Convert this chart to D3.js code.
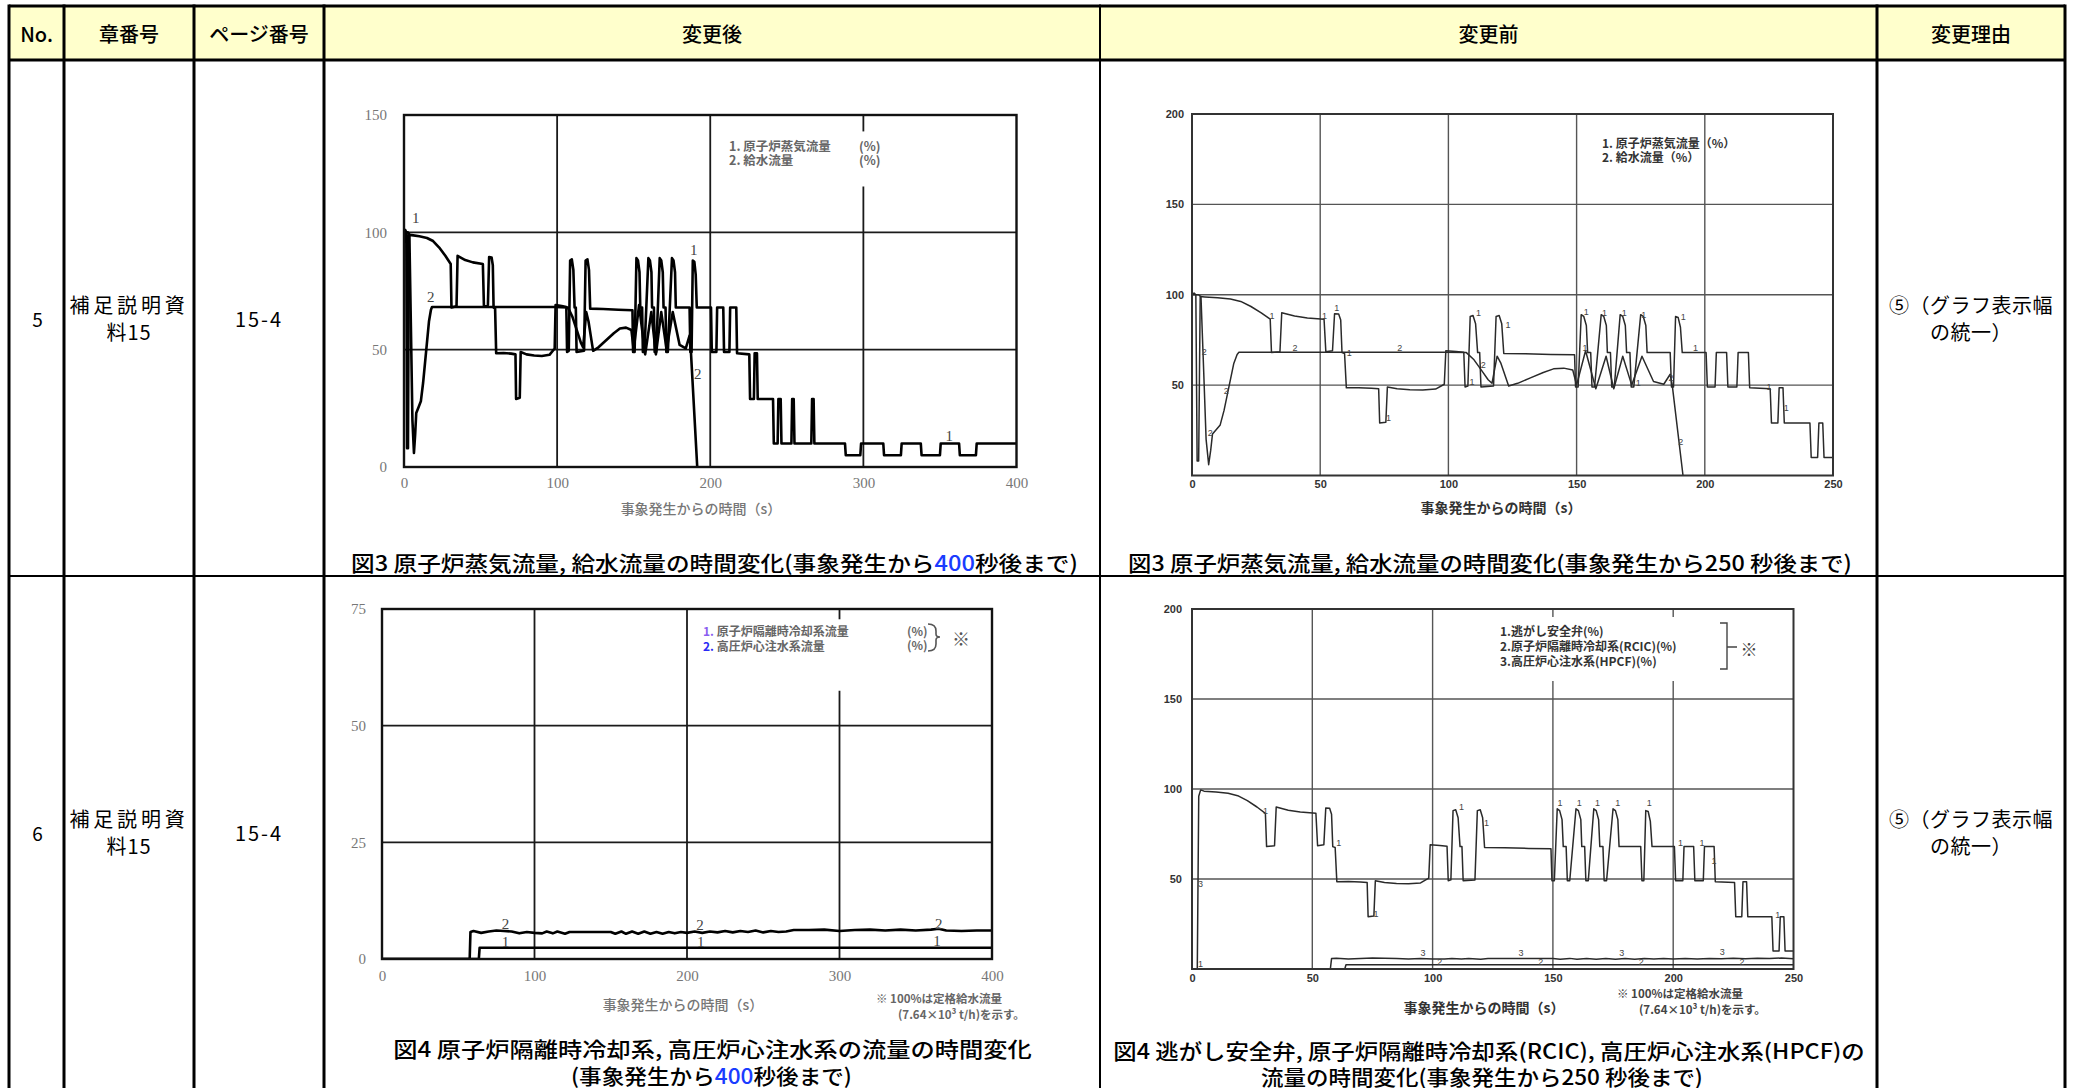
<!DOCTYPE html>
<html>
<head>
<meta charset="utf-8">
<script src="https://cdn.jsdelivr.net/npm/d3@7"></script>
<style>
  html, body { margin: 0; padding: 0; background: #fff; }
  svg { display: block; }
</style>
</head>
<body>
<svg id="page" width="2081" height="1088"></svg>
<script>
// ---------------------------------------------------------------------------
// Data
// ---------------------------------------------------------------------------

// Table text
const headerLabels = ['No.', '章番号', 'ページ番号', '変更後', '変更前', '変更理由'];
const rowNumbers = ['5', '6'];
const chapterLines = ['補足説明資', '料15'];
const pageLabel = '15-4';
const reasonLines = ['⑤（グラフ表示幅', 'の統一）'];

// Reactor steam flow [time s, %]
const steamFlow = [
  [0,100],[0.8,101],[1.5,100],[2.0,8],[2.6,8],[3.2,99],[5,98.8],[10,98.3],[15,97.6],
  [19,96.3],[23,93.5],[27,90],[30.5,86.5],[31,68],[34.3,68.5],[35,90],[40,88.2],[45,87.2],
  [51.5,86.5],[52.2,68.5],[54.8,69],[55.6,89.5],[57.2,89.3],[58,86],[58.5,68],[59.5,67.5],
  [60.2,48.5],[65,48.6],[70,48.3],[72.8,48],[73.2,29],[75.6,29.5],[76.2,49],[80,48],
  [85,47.5],[90,47.3],[95,47.8],[98.4,50.5],[99,69],[103,68.6],[106,68.2],[106.5,49],
  [107.6,49.5],[108.5,88],[109.6,88.5],[110.6,84],[111.4,68],[112.2,68],[112.7,49],
  [117.6,49.5],[118.6,88],[119.8,88.5],[120.8,84],[121.6,67.5],[130,67.3],[140,67],
  [149.2,66.8],[149.6,49],[150.6,49],[151.8,89],[152.8,88],[153.8,83],[154.3,68],
  [155.5,68],[156,49],[157,49],[159.6,89],[160.6,88],[161.6,83],[162,68],[163.2,68],
  [163.7,49],[164.7,49],[167,89],[168,88],[169,83],[169.5,68],[170.8,68],[171.3,49],
  [172.3,49],[175,89],[176,88],[177,83],[177.5,68],[186.5,68],[187,49],[187.8,49],
  [188.6,88],[189.6,87.5],[190.5,82],[191.2,68],[200.5,68],[201,49],[204,49],[204.5,68],
  [208.5,68],[209,49],[212.5,49],[213,68],[217,68],[217.5,48.5],[225.5,48],[226,29],
  [228.5,29],[229,48.5],[230.5,48.5],[231,29],[241,29],[241.5,10],[244,10],[244.5,29],
  [246,29],[246.5,10],[253,10],[253.5,29],[254.5,29],[255,10],[266,10],[266.5,29],
  [267.5,29],[268,10],[288,10],[288.5,5],[298,5],[298.5,10],[313,10],[313.5,5],
  [324.5,5],[325,10],[337.5,10],[338,5],[350,5],[350.5,10],[362.5,10],[363,5],
  [373.5,5],[374,10],[400,10]
];

// Feedwater flow [time s, %]
const feedwaterFlow = [
  [0,100],[2.5,100],[3.5,99],[4.5,60],[5.5,20],[6.5,6],[7.3,14],[8,23],[9.5,25.5],
  [11,28],[12.5,36],[14.4,49],[16.3,62],[17.6,67],[18.3,68.2],[40,68.2],[70,68.2],
  [98,68.2],[107,68],[110,64],[113,58],[115.5,53],[117,51],[119,66],[120.5,62],
  [123.5,49.5],[127,51],[132,54],[137,57],[141,59],[145,59.4],[148.5,58.4],[150,50],
  [153.5,69],[157.5,48],[161.5,66],[164.5,48],[168,66],[171.5,50],[175.5,66],[180,52],
  [184,50.5],[186.5,56],[187.3,50],[191.5,0]
];

// Safety relief valve flow: valve opening, then it carries the steam flow
const srvOpening = [[0,0],[2.2,0],[2.8,96],[3.6,99.5]];
const srvFlow = srvOpening.concat(steamFlow.filter(d => d[0] >= 5));

// RCIC flow [time s, %]
const rcicFlow = [[0,0],[63.5,0],[64,2.4],[150,2.4],[250,2.4],[400,2.4]];

// HPCF flow [time s, %]
const hpcfFlow = [
  [0,0],[57.5,0],[58,5.8],[60,6],[65,5.6],[70,5.9],[75,6.1],[80,6.0],[85,5.9],[90,5.5],
  [95,5.8],[100,5.6],[105,5.5],[108,5.9],[112,5.5],[115,5.9],[120,5.4],[123,5.8],
  [130,5.8],[140,5.8],[150,5.8],[153,5.4],[157,5.9],[160,5.4],[164,5.9],[168,5.4],
  [172,5.9],[176,5.4],[180,5.8],[184,5.4],[188,5.8],[192,5.5],[196,5.8],[200,5.6],
  [205,5.9],[210,5.6],[215,5.9],[220,5.7],[225,6.0],[230,5.7],[235,6.0],[240,5.8],
  [245,6.1],[250,5.7],[255,6.0],[260,5.8],[265,5.9],[270,6.2],[280,6.2],[290,6.3],
  [300,6.0],[310,6.2],[320,6.3],[330,6.1],[340,6.3],[350,6.1],[360,6.3],[365,6.5],
  [370,6.1],[380,6.0],[390,6.1],[400,6.1]
];

// Curve number tags [tag, time, %]
const tagsFig3New = [['1',7.6,106],['2',17.5,72.5],['1',189.3,92.4],['2',191.9,39.8],['1',356,13]];
const tagsFig3Old = [
  ['2',4.8,68.6],['2',7.1,23.4],['2',13.4,46.5],['1',31.2,88],['2',40.2,70.4],['1',51.7,88.3],
  ['1',56.5,92.5],['1',61.3,67.6],['1',76.6,31.7],['2',81,70.4],['1',109.2,52],['1',111.7,89.8],
  ['2',113.6,61.2],['1',123.2,83.3],['1',153.3,70.4],['1',153.8,90.7],['1',160.9,90.1],
  ['1',168.6,90.1],['1',174,51],['1',176.2,88.8],['2',186.8,53.8],['2',190.6,18.8],
  ['1',191.6,87.9],['1',196.4,70.4],['1',225,49],['1',231.8,37.2]
];
const tagsFig4New = [['2',81,7.5],['2',208.5,7.3],['2',365,7.5],['1',81,3.6],['1',209,3.6],['1',364,3.9]];
const tagsFig4Old = [
  ['3',3.5,47],['1',3.5,3],['1',30.6,88],['1',61,70],['1',76.5,30.5],['1',112,90],['1',122.4,81],
  ['1',153,92],['1',161,92],['1',168.5,92],['1',177,92],['1',190,92],['1',203,70],['1',212,70],
  ['1',217,60],['1',243.5,30],['3',96,8.7],['3',136.7,8.7],['3',178.6,8.7],['3',220.4,9.2],
  ['2',103,3.7],['2',145,3.7],['2',186.7,3.7],['2',228.6,3.7]
];

// Axis ticks
const ticksX400 = [0,100,200,300,400];
const ticksX250 = [0,50,100,150,200,250];
const ticksY150 = [0,50,100,150];
const ticksY75 = [0,25,50,75];
const ticksY200 = [50,100,150,200];

// Legends and notes
const legendFig3New = [['1.','原子炉蒸気流量','(%)'],['2.','給水流量','(%)']];
const legendFig3Old = ['1. 原子炉蒸気流量（%）','2. 給水流量（%）'];
const legendFig4New = [['1.','原子炉隔離時冷却系流量','(%)'],['2.','高圧炉心注水系流量','(%)']];
const legendFig4Old = ['1.逃がし安全弁(%)','2.原子炉隔離時冷却系(RCIC)(%)','3.高圧炉心注水系(HPCF)(%)'];
const noteLines = ['※  100%は定格給水流量', '(7.64×10³ t/h)を示す。'];
const axisTitle = '事象発生からの時間（s）';

// ---------------------------------------------------------------------------
// Page table
// ---------------------------------------------------------------------------
const svg = d3.select('#page');
const JP = '"Noto Sans CJK JP", "Noto Sans", sans-serif';
const colEdges = [9, 64, 194, 324, 1100, 1877, 2065];
const tableTop = 6, headBottom = 60, rowSplit = 576, tableBottom = 1100;

svg.append('rect').attr('x', colEdges[0]).attr('y', tableTop)
  .attr('width', colEdges[6] - colEdges[0]).attr('height', headBottom - tableTop)
  .attr('fill', '#ffffcc');

headerLabels.forEach((t, i) => {
  svg.append('text')
    .attr('x', (colEdges[i] + colEdges[i + 1]) / 2).attr('y', (tableTop + headBottom) / 2)
    .attr('text-anchor', 'middle').attr('dominant-baseline', 'central')
    .attr('font-family', JP).attr('font-size', 20).attr('font-weight', 500).attr('fill', '#000')
    .text(t);
});

const rowCentres = [318, 832];
rowNumbers.forEach((n, r) => {
  const cy = rowCentres[r];
  svg.append('text').attr('x', (colEdges[0] + colEdges[1]) / 2 + 1).attr('y', cy)
    .attr('text-anchor', 'middle').attr('dominant-baseline', 'central')
    .attr('font-family', JP).attr('font-size', 19).text(n);
  chapterLines.forEach((t, k) => {
    svg.append('text').attr('x', (colEdges[1] + colEdges[2]) / 2).attr('y', cy - 14 + k * 27)
      .attr('text-anchor', 'middle').attr('dominant-baseline', 'central')
      .attr('font-family', JP).attr('font-size', 20).attr('letter-spacing', k === 0 ? 3.8 : 1)
      .text(t);
  });
  svg.append('text').attr('x', (colEdges[2] + colEdges[3]) / 2).attr('y', cy)
    .attr('text-anchor', 'middle').attr('dominant-baseline', 'central')
    .attr('font-family', JP).attr('font-size', 20).attr('letter-spacing', 2).text(pageLabel);
  reasonLines.forEach((t, k) => {
    svg.append('text').attr('x', (colEdges[5] + colEdges[6]) / 2).attr('y', cy - 14 + k * 27)
      .attr('text-anchor', 'middle').attr('dominant-baseline', 'central')
      .attr('font-family', JP).attr('font-size', 20).attr('letter-spacing', 0.5)
      .text(t);
  });
});

// rules
const rules = svg.append('g').attr('stroke', '#000');
[[tableTop, 3], [headBottom, 3], [rowSplit, 2]].forEach(([yy, w]) => {
  rules.append('line').attr('x1', colEdges[0]).attr('x2', colEdges[6])
    .attr('y1', yy).attr('y2', yy).attr('stroke-width', w);
});
const colWidths = [3, 3, 3, 3, 2, 3, 3];
colEdges.forEach((xx, i) => {
  rules.append('line').attr('x1', xx).attr('x2', xx)
    .attr('y1', tableTop - 1.5).attr('y2', tableBottom).attr('stroke-width', colWidths[i]);
});

// ---------------------------------------------------------------------------
// Chart drawing
// ---------------------------------------------------------------------------
const styles = {
  revised: {
    frame: '#111', frameW: 2.4, grid: '#1a1a1a', gridW: 1.8, line: '#000', lineW: 2.6,
    tickFont: '"Liberation Serif", "DejaVu Serif", serif', tickSize: 15, tickFill: '#777', tickWeight: 400,
    tagFont: '"Liberation Serif", serif', tagSize: 15, tagFill: '#444',
    titleSize: 14, titleFill: '#777', titleWeight: 500
  },
  original: {
    frame: '#333', frameW: 2, grid: '#555', gridW: 1.4, line: '#2a2a2a', lineW: 1.5,
    tickFont: '"Liberation Sans", Arial, sans-serif', tickSize: 11, tickFill: '#333', tickWeight: 700,
    tagFont: '"Liberation Sans", sans-serif', tagSize: 9, tagFill: '#444',
    titleSize: 14, titleFill: '#333', titleWeight: 700
  }
};

function drawChart(cfg) {
  const st = styles[cfg.style];
  const g = svg.append('g');
  const x = d3.scaleLinear().domain(cfg.xDomain).range([cfg.left, cfg.right]);
  const y = d3.scaleLinear().domain(cfg.yDomain).range([cfg.bottom, cfg.top]);

  const clipId = 'clip-' + cfg.id;
  g.append('clipPath').attr('id', clipId).append('rect')
    .attr('x', cfg.left).attr('y', cfg.top)
    .attr('width', cfg.right - cfg.left).attr('height', cfg.bottom - cfg.top);

  // grid
  const grid = g.append('g').attr('stroke', st.grid).attr('stroke-width', st.gridW);
  cfg.gridX.forEach(v => {
    const gap = (cfg.gridGaps || []).find(d => d.x === v);
    const segs = gap ? [[cfg.yDomain[0], gap.from], [gap.to, cfg.yDomain[1]]] : [cfg.yDomain];
    segs.forEach(s => grid.append('line')
      .attr('x1', x(v)).attr('x2', x(v)).attr('y1', y(s[0])).attr('y2', y(s[1])));
  });
  cfg.gridY.forEach(v => grid.append('line')
    .attr('x1', cfg.left).attr('x2', cfg.right).attr('y1', y(v)).attr('y2', y(v)));

  // series
  const line = d3.line().x(d => x(d[0])).y(d => y(d[1]));
  const lines = g.append('g').attr('clip-path', `url(#${clipId})`);
  cfg.series.forEach(s => {
    lines.append('path').attr('d', line(s))
      .attr('fill', 'none').attr('stroke', st.line).attr('stroke-width', st.lineW)
      .attr('stroke-linejoin', 'round');
  });

  // frame
  g.append('rect').attr('x', cfg.left).attr('y', cfg.top)
    .attr('width', cfg.right - cfg.left).attr('height', cfg.bottom - cfg.top)
    .attr('fill', 'none').attr('stroke', st.frame).attr('stroke-width', st.frameW);

  // axes
  const ax = g.append('g').attr('transform', `translate(0,${cfg.bottom})`)
    .call(d3.axisBottom(x).tickValues(cfg.xTicks).tickSize(0).tickPadding(cfg.xPad).tickFormat(d3.format('d')));
  const ay = g.append('g').attr('transform', `translate(${cfg.left},0)`)
    .call(d3.axisLeft(y).tickValues(cfg.yTicks).tickSize(0).tickPadding(cfg.yPad).tickFormat(d3.format('d')));
  [ax, ay].forEach(a => {
    a.select('.domain').remove();
    a.attr('font-family', st.tickFont).attr('font-size', st.tickSize);
    a.selectAll('text').attr('fill', st.tickFill).attr('font-weight', st.tickWeight);
  });

  // axis title
  g.append('text').attr('x', cfg.titlePos[0]).attr('y', cfg.titlePos[1])
    .attr('text-anchor', 'middle').attr('dominant-baseline', 'central')
    .attr('font-family', JP).attr('font-size', st.titleSize).attr('font-weight', st.titleWeight)
    .attr('fill', st.titleFill).text(axisTitle);

  // curve tags
  g.append('g').selectAll('text').data(cfg.tags).join('text')
    .attr('x', d => x(d[1])).attr('y', d => y(d[2]))
    .attr('text-anchor', 'middle').attr('dominant-baseline', 'central')
    .attr('font-family', st.tagFont).attr('font-size', st.tagSize).attr('fill', st.tagFill)
    .text(d => d[0]);

  return { g, x, y };
}

// caption fitted to a given width
function caption(parts, cx, cy, width) {
  const t = svg.append('text').attr('x', cx).attr('y', cy)
    .attr('text-anchor', 'middle').attr('dominant-baseline', 'central')
    .attr('font-family', JP).attr('font-size', 21).attr('font-weight', 500).attr('fill', '#000');
  parts.forEach(p => t.append('tspan').attr('fill', p[1] || '#000').text(p[0]));
  const w = t.node().getComputedTextLength();
  const k = width / w;
  t.attr('transform', `translate(${cx},0) scale(${k},1) translate(${-cx},0)`);
}

function note(x0, y0, lines, fill) {
  lines.forEach((t, i) => {
    svg.append('text').attr('x', x0 + (i ? 22 : 0)).attr('y', y0 + i * 15.5)
      .attr('dominant-baseline', 'central')
      .attr('font-family', JP).attr('font-size', 11.5).attr('font-weight', 700)
      .attr('fill', fill).text(t);
  });
}

// --- Fig.3 revised (0-400 s)
drawChart({
  id: 'f3n', style: 'revised', left: 404, right: 1016.5, top: 115, bottom: 467,
  xDomain: [0, 400], yDomain: [0, 150], xTicks: ticksX400, yTicks: ticksY150,
  gridX: [100, 200, 300], gridY: [50, 100], gridGaps: [{ x: 300, from: 119.5, to: 143 }],
  xPad: 10, yPad: 17, titlePos: [701, 508],
  series: [steamFlow, feedwaterFlow], tags: tagsFig3New
});
legendFig3New.forEach((r, i) => {
  const yy = 145 + i * 14.5;
  svg.append('text').attr('x', 729).attr('y', yy).attr('dominant-baseline', 'central')
    .attr('font-family', JP).attr('font-size', 12.5).attr('font-weight', 700).attr('fill', '#666')
    .text(r[0] + ' ' + r[1]);
  svg.append('text').attr('x', 859).attr('y', yy).attr('dominant-baseline', 'central')
    .attr('font-family', JP).attr('font-size', 12.5).attr('font-weight', 700).attr('fill', '#666').text(r[2]);
});
caption([['図3  原子炉蒸気流量, 給水流量の時間変化(事象発生から'], ['400', '#1a3cff'], ['秒後まで)']], 714.5, 561.5, 727);

// --- Fig.3 original (0-250 s)
drawChart({
  id: 'f3o', style: 'original', left: 1192, right: 1833, top: 114, bottom: 475.5,
  xDomain: [0, 250], yDomain: [0, 200], xTicks: ticksX250, yTicks: ticksY200,
  gridX: [50, 100, 150, 200], gridY: [50, 100, 150],
  xPad: 5, yPad: 8, titlePos: [1501, 507],
  series: [steamFlow, feedwaterFlow], tags: tagsFig3Old
});
legendFig3Old.forEach((t, i) => {
  svg.append('text').attr('x', 1602).attr('y', 142 + i * 14).attr('dominant-baseline', 'central')
    .attr('font-family', JP).attr('font-size', 12).attr('font-weight', 700).attr('fill', '#333').text(t);
});
caption([['図3 原子炉蒸気流量, 給水流量の時間変化(事象発生から250 秒後まで)']], 1490, 561.5, 724);

// --- Fig.4 revised (0-400 s)
drawChart({
  id: 'f4n', style: 'revised', left: 382, right: 992, top: 609, bottom: 959,
  xDomain: [0, 400], yDomain: [0, 75], xTicks: ticksX400, yTicks: ticksY75,
  gridX: [100, 200, 300], gridY: [25, 50], gridGaps: [{ x: 300, from: 57.5, to: 72.8 }],
  xPad: 11, yPad: 16, titlePos: [683, 1004],
  series: [rcicFlow, hpcfFlow], tags: tagsFig4New
});
const numColours = ['#8a5cf0', '#2a2af5'];
legendFig4New.forEach((r, i) => {
  const yy = 630 + i * 14.5;
  const t = svg.append('text').attr('x', 703).attr('y', yy).attr('dominant-baseline', 'central')
    .attr('font-family', JP).attr('font-size', 12).attr('font-weight', 700).attr('fill', '#666');
  t.append('tspan').attr('fill', numColours[i]).text(r[0]);
  t.append('tspan').text(' ' + r[1]);
  svg.append('text').attr('x', 907).attr('y', yy).attr('dominant-baseline', 'central')
    .attr('font-family', JP).attr('font-size', 12).attr('font-weight', 700).attr('fill', '#666').text(r[2]);
});
svg.append('path').attr('d', 'M928,624 Q936,624 936,631 L936,634 Q936,637 940,637 Q936,637 936,640 L936,644 Q936,651 928,651')
  .attr('fill', 'none').attr('stroke', '#555').attr('stroke-width', 1.6);
svg.append('text').attr('x', 961).attr('y', 638).attr('text-anchor', 'middle').attr('dominant-baseline', 'central')
  .attr('font-family', JP).attr('font-size', 18).attr('fill', '#555').text('※');
note(876, 998, noteLines, '#666');
caption([['図4  原子炉隔離時冷却系, 高圧炉心注水系の流量の時間変化']], 712.5, 1048, 639);
caption([['(事象発生から'], ['400', '#1a3cff'], ['秒後まで)']], 711.5, 1074, 281);

// --- Fig.4 original (0-250 s)
drawChart({
  id: 'f4o', style: 'original', left: 1192, right: 1793.5, top: 609, bottom: 969,
  xDomain: [0, 250], yDomain: [0, 200], xTicks: ticksX250, yTicks: ticksY200,
  gridX: [50, 100, 150, 200], gridY: [50, 100, 150],
  gridGaps: [{ x: 150, from: 160, to: 195.5 }, { x: 200, from: 160, to: 195.5 }],
  xPad: 5, yPad: 10, titlePos: [1484, 1007],
  series: [srvFlow, rcicFlow, hpcfFlow], tags: tagsFig4Old
});
legendFig4Old.forEach((t, i) => {
  svg.append('text').attr('x', 1500).attr('y', 630 + i * 15).attr('dominant-baseline', 'central')
    .attr('font-family', JP).attr('font-size', 12).attr('font-weight', 700).attr('fill', '#333').text(t);
});
svg.append('path').attr('d', 'M1720,623 H1727 V669 H1720 M1727,647 H1737')
  .attr('fill', 'none').attr('stroke', '#444').attr('stroke-width', 1.4);
svg.append('text').attr('x', 1749).attr('y', 648).attr('text-anchor', 'middle').attr('dominant-baseline', 'central')
  .attr('font-family', JP).attr('font-size', 17).attr('fill', '#444').text('※');
note(1617, 993, noteLines, '#444');
caption([['図4 逃がし安全弁, 原子炉隔離時冷却系(RCIC), 高圧炉心注水系(HPCF)の']], 1489, 1050, 752);
caption([['流量の時間変化(事象発生から250 秒後まで)']], 1482, 1075, 442);
</script>
</body>
</html>
